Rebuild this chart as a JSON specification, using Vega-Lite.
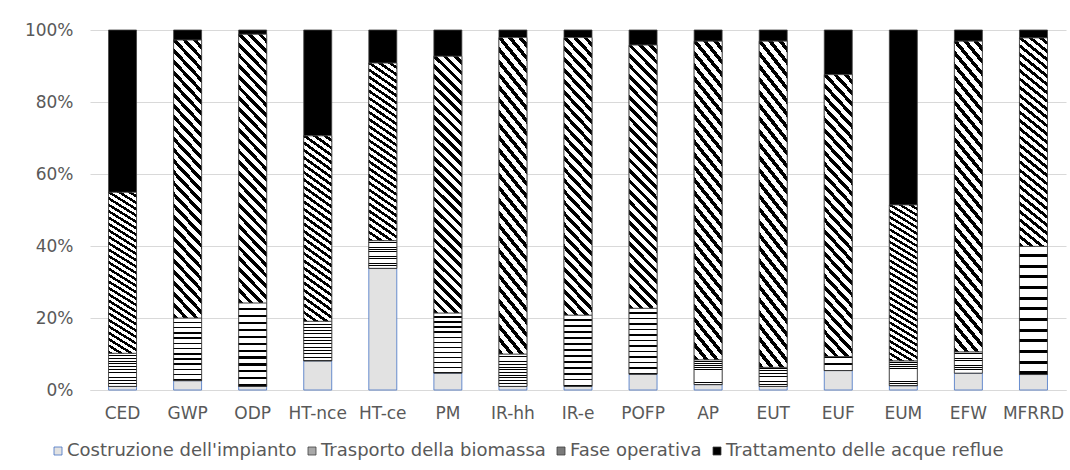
{
  "$schema": "https://vega.github.io/schema/vega-lite/v6.json",
  "autosize": {"type": "none"},
  "padding": {"left": 90, "top": 30, "right": 4, "bottom": 80},
  "width": 976,
  "height": 360,
  "background": "white",
  "config": {
    "view": {"stroke": null},
    "font": "DejaVu Sans",
    "axis": {"labelFont": "DejaVu Sans", "labelFontSize": 17, "labelColor": "#595959", "ticks": false, "title": null, "gridColor": "#d9d9d9", "gridWidth": 1},
    "legend": {"labelFont": "DejaVu Sans", "labelFontSize": 18, "labelColor": "#595959", "labelLimit": 0}
  },
  "data": {"values": [
    {"cat": "CED", "s": "Costruzione dell'impianto", "k": 1, "v": 1.0},
    {"cat": "CED", "s": "Trasporto della biomassa", "k": 2, "v": 9.2},
    {"cat": "CED", "s": "Fase operativa", "k": 3, "v": 44.7},
    {"cat": "CED", "s": "Trattamento delle acque reflue", "k": 4, "v": 45.1},
    {"cat": "GWP", "s": "Costruzione dell'impianto", "k": 1, "v": 2.6},
    {"cat": "GWP", "s": "Trasporto della biomassa", "k": 2, "v": 17.4},
    {"cat": "GWP", "s": "Fase operativa", "k": 3, "v": 77.2},
    {"cat": "GWP", "s": "Trattamento delle acque reflue", "k": 4, "v": 2.8},
    {"cat": "ODP", "s": "Costruzione dell'impianto", "k": 1, "v": 1.0},
    {"cat": "ODP", "s": "Trasporto della biomassa", "k": 2, "v": 23.2},
    {"cat": "ODP", "s": "Fase operativa", "k": 3, "v": 74.6},
    {"cat": "ODP", "s": "Trattamento delle acque reflue", "k": 4, "v": 1.2},
    {"cat": "HT-nce", "s": "Costruzione dell'impianto", "k": 1, "v": 8.1},
    {"cat": "HT-nce", "s": "Trasporto della biomassa", "k": 2, "v": 11.0},
    {"cat": "HT-nce", "s": "Fase operativa", "k": 3, "v": 51.5},
    {"cat": "HT-nce", "s": "Trattamento delle acque reflue", "k": 4, "v": 29.4},
    {"cat": "HT-ce", "s": "Costruzione dell'impianto", "k": 1, "v": 33.8},
    {"cat": "HT-ce", "s": "Trasporto della biomassa", "k": 2, "v": 7.7},
    {"cat": "HT-ce", "s": "Fase operativa", "k": 3, "v": 49.3},
    {"cat": "HT-ce", "s": "Trattamento delle acque reflue", "k": 4, "v": 9.2},
    {"cat": "PM", "s": "Costruzione dell'impianto", "k": 1, "v": 4.7},
    {"cat": "PM", "s": "Trasporto della biomassa", "k": 2, "v": 16.7},
    {"cat": "PM", "s": "Fase operativa", "k": 3, "v": 71.3},
    {"cat": "PM", "s": "Trattamento delle acque reflue", "k": 4, "v": 7.3},
    {"cat": "IR-hh", "s": "Costruzione dell'impianto", "k": 1, "v": 1.0},
    {"cat": "IR-hh", "s": "Trasporto della biomassa", "k": 2, "v": 9.0},
    {"cat": "IR-hh", "s": "Fase operativa", "k": 3, "v": 87.9},
    {"cat": "IR-hh", "s": "Trattamento delle acque reflue", "k": 4, "v": 2.1},
    {"cat": "IR-e", "s": "Costruzione dell'impianto", "k": 1, "v": 1.0},
    {"cat": "IR-e", "s": "Trasporto della biomassa", "k": 2, "v": 19.8},
    {"cat": "IR-e", "s": "Fase operativa", "k": 3, "v": 77.1},
    {"cat": "IR-e", "s": "Trattamento delle acque reflue", "k": 4, "v": 2.1},
    {"cat": "POFP", "s": "Costruzione dell'impianto", "k": 1, "v": 4.4},
    {"cat": "POFP", "s": "Trasporto della biomassa", "k": 2, "v": 18.3},
    {"cat": "POFP", "s": "Fase operativa", "k": 3, "v": 73.1},
    {"cat": "POFP", "s": "Trattamento delle acque reflue", "k": 4, "v": 4.2},
    {"cat": "AP", "s": "Costruzione dell'impianto", "k": 1, "v": 1.5},
    {"cat": "AP", "s": "Trasporto della biomassa", "k": 2, "v": 6.9},
    {"cat": "AP", "s": "Fase operativa", "k": 3, "v": 88.5},
    {"cat": "AP", "s": "Trattamento delle acque reflue", "k": 4, "v": 3.1},
    {"cat": "EUT", "s": "Costruzione dell'impianto", "k": 1, "v": 1.0},
    {"cat": "EUT", "s": "Trasporto della biomassa", "k": 2, "v": 5.3},
    {"cat": "EUT", "s": "Fase operativa", "k": 3, "v": 90.6},
    {"cat": "EUT", "s": "Trattamento delle acque reflue", "k": 4, "v": 3.1},
    {"cat": "EUF", "s": "Costruzione dell'impianto", "k": 1, "v": 5.4},
    {"cat": "EUF", "s": "Trasporto della biomassa", "k": 2, "v": 3.9},
    {"cat": "EUF", "s": "Fase operativa", "k": 3, "v": 78.3},
    {"cat": "EUF", "s": "Trattamento delle acque reflue", "k": 4, "v": 12.4},
    {"cat": "EUM", "s": "Costruzione dell'impianto", "k": 1, "v": 1.2},
    {"cat": "EUM", "s": "Trasporto della biomassa", "k": 2, "v": 6.9},
    {"cat": "EUM", "s": "Fase operativa", "k": 3, "v": 43.3},
    {"cat": "EUM", "s": "Trattamento delle acque reflue", "k": 4, "v": 48.6},
    {"cat": "EFW", "s": "Costruzione dell'impianto", "k": 1, "v": 4.7},
    {"cat": "EFW", "s": "Trasporto della biomassa", "k": 2, "v": 5.9},
    {"cat": "EFW", "s": "Fase operativa", "k": 3, "v": 86.3},
    {"cat": "EFW", "s": "Trattamento delle acque reflue", "k": 4, "v": 3.1},
    {"cat": "MFRRD", "s": "Costruzione dell'impianto", "k": 1, "v": 4.3},
    {"cat": "MFRRD", "s": "Trasporto della biomassa", "k": 2, "v": 35.6},
    {"cat": "MFRRD", "s": "Fase operativa", "k": 3, "v": 57.9},
    {"cat": "MFRRD", "s": "Trattamento delle acque reflue", "k": 4, "v": 2.2}
  ]},
  "transform": [
    {"stack": "v", "groupby": ["cat"], "sort": [{"field": "k", "order": "ascending"}], "offset": "normalize", "as": ["y0", "y1"]}
  ],
  "encoding": {
    "x": {"field": "cat", "type": "nominal", "sort": ["CED", "GWP", "ODP", "HT-nce", "HT-ce", "PM", "IR-hh", "IR-e", "POFP", "AP", "EUT", "EUF", "EUM", "EFW", "MFRRD"],
      "scale": {"paddingInner": 0.57, "paddingOuter": 0.285},
      "axis": {"labelAngle": 0, "labelPadding": 15, "domain": true, "domainColor": "#d9d9d9", "grid": false}},
    "y": {"field": "y0", "type": "quantitative",
      "scale": {"domain": [0, 1]},
      "axis": {"format": ".0%", "values": [0, 0.2, 0.4, 0.6, 0.8, 1], "domain": false, "labelPadding": 17, "grid": true}},
    "y2": {"field": "y1"}
  },
  "layer": [
    {
      "mark": {"type": "bar", "strokeWidth": 0.8},
      "encoding": {
        "fill": {"field": "s", "type": "nominal",
          "scale": {
            "domain": ["Costruzione dell'impianto", "Trasporto della biomassa", "Fase operativa", "Trattamento delle acque reflue"],
            "range": ["#e2e2e2", "#a8a8a8", "#7a7a7a", "#000000"]
          },
          "legend": {"title": null, "orient": "none", "legendX": -41, "legendY": 412, "direction": "horizontal", "columns": 4, "columnPadding": 6, "symbolType": "square", "symbolSize": 64, "symbolStrokeWidth": 0.8, "labelOffset": 0}},
        "stroke": {"field": "s", "type": "nominal",
          "scale": {
            "domain": ["Costruzione dell'impianto", "Trasporto della biomassa", "Fase operativa", "Trattamento delle acque reflue"],
            "range": ["#4472c4", "#404040", "#404040", "#404040"]
          },
          "legend": null}
      }
    },
    {
      "transform": [{"filter": "datum.k == 2"}],
      "mark": {"type": "bar", "strokeWidth": 0.8, "stroke": "#404040",
        "fill": {"gradient": "linear", "x1": 0, "y1": 0, "x2": 0, "y2": 1, "stops": [
            {"offset": 0, "color": "#ffffff"}, {"offset": 0.05833, "color": "#ffffff"}, {"offset": 0.05833, "color": "#000000"}, {"offset": 0.08333, "color": "#000000"},
            {"offset": 0.08333, "color": "#ffffff"}, {"offset": 0.14167, "color": "#ffffff"}, {"offset": 0.14167, "color": "#000000"}, {"offset": 0.16667, "color": "#000000"},
            {"offset": 0.16667, "color": "#ffffff"}, {"offset": 0.225, "color": "#ffffff"}, {"offset": 0.225, "color": "#000000"}, {"offset": 0.25, "color": "#000000"},
            {"offset": 0.25, "color": "#ffffff"}, {"offset": 0.30833, "color": "#ffffff"}, {"offset": 0.30833, "color": "#000000"}, {"offset": 0.33333, "color": "#000000"},
            {"offset": 0.33333, "color": "#ffffff"}, {"offset": 0.39167, "color": "#ffffff"}, {"offset": 0.39167, "color": "#000000"}, {"offset": 0.41667, "color": "#000000"},
            {"offset": 0.41667, "color": "#ffffff"}, {"offset": 0.475, "color": "#ffffff"}, {"offset": 0.475, "color": "#000000"}, {"offset": 0.5, "color": "#000000"},
            {"offset": 0.5, "color": "#ffffff"}, {"offset": 0.55833, "color": "#ffffff"}, {"offset": 0.55833, "color": "#000000"}, {"offset": 0.58333, "color": "#000000"},
            {"offset": 0.58333, "color": "#ffffff"}, {"offset": 0.64167, "color": "#ffffff"}, {"offset": 0.64167, "color": "#000000"}, {"offset": 0.66667, "color": "#000000"},
            {"offset": 0.66667, "color": "#ffffff"}, {"offset": 0.725, "color": "#ffffff"}, {"offset": 0.725, "color": "#000000"}, {"offset": 0.75, "color": "#000000"},
            {"offset": 0.75, "color": "#ffffff"}, {"offset": 0.80833, "color": "#ffffff"}, {"offset": 0.80833, "color": "#000000"}, {"offset": 0.83333, "color": "#000000"},
            {"offset": 0.83333, "color": "#ffffff"}, {"offset": 0.89167, "color": "#ffffff"}, {"offset": 0.89167, "color": "#000000"}, {"offset": 0.91667, "color": "#000000"},
            {"offset": 0.91667, "color": "#ffffff"}, {"offset": 0.975, "color": "#ffffff"}, {"offset": 0.975, "color": "#000000"}, {"offset": 1, "color": "#000000"}
          ]}
      }
    },
    {
      "transform": [{"filter": "datum.k == 3"}],
      "mark": {"type": "bar", "strokeWidth": 0.8, "stroke": "#404040",
        "fill": {"gradient": "linear", "x1": 0, "y1": 1, "x2": 0.119, "y2": -0.1, "stops": [
            {"offset": 0, "color": "#000000"}, {"offset": 0.01607, "color": "#000000"}, {"offset": 0.01607, "color": "#ffffff"}, {"offset": 0.03571, "color": "#ffffff"},
            {"offset": 0.03571, "color": "#000000"}, {"offset": 0.05179, "color": "#000000"}, {"offset": 0.05179, "color": "#ffffff"}, {"offset": 0.07143, "color": "#ffffff"},
            {"offset": 0.07143, "color": "#000000"}, {"offset": 0.0875, "color": "#000000"}, {"offset": 0.0875, "color": "#ffffff"}, {"offset": 0.10714, "color": "#ffffff"},
            {"offset": 0.10714, "color": "#000000"}, {"offset": 0.12321, "color": "#000000"}, {"offset": 0.12321, "color": "#ffffff"}, {"offset": 0.14286, "color": "#ffffff"},
            {"offset": 0.14286, "color": "#000000"}, {"offset": 0.15893, "color": "#000000"}, {"offset": 0.15893, "color": "#ffffff"}, {"offset": 0.17857, "color": "#ffffff"},
            {"offset": 0.17857, "color": "#000000"}, {"offset": 0.19464, "color": "#000000"}, {"offset": 0.19464, "color": "#ffffff"}, {"offset": 0.21429, "color": "#ffffff"},
            {"offset": 0.21429, "color": "#000000"}, {"offset": 0.23036, "color": "#000000"}, {"offset": 0.23036, "color": "#ffffff"}, {"offset": 0.25, "color": "#ffffff"},
            {"offset": 0.25, "color": "#000000"}, {"offset": 0.26607, "color": "#000000"}, {"offset": 0.26607, "color": "#ffffff"}, {"offset": 0.28571, "color": "#ffffff"},
            {"offset": 0.28571, "color": "#000000"}, {"offset": 0.30179, "color": "#000000"}, {"offset": 0.30179, "color": "#ffffff"}, {"offset": 0.32143, "color": "#ffffff"},
            {"offset": 0.32143, "color": "#000000"}, {"offset": 0.3375, "color": "#000000"}, {"offset": 0.3375, "color": "#ffffff"}, {"offset": 0.35714, "color": "#ffffff"},
            {"offset": 0.35714, "color": "#000000"}, {"offset": 0.37321, "color": "#000000"}, {"offset": 0.37321, "color": "#ffffff"}, {"offset": 0.39286, "color": "#ffffff"},
            {"offset": 0.39286, "color": "#000000"}, {"offset": 0.40893, "color": "#000000"}, {"offset": 0.40893, "color": "#ffffff"}, {"offset": 0.42857, "color": "#ffffff"},
            {"offset": 0.42857, "color": "#000000"}, {"offset": 0.44464, "color": "#000000"}, {"offset": 0.44464, "color": "#ffffff"}, {"offset": 0.46429, "color": "#ffffff"},
            {"offset": 0.46429, "color": "#000000"}, {"offset": 0.48036, "color": "#000000"}, {"offset": 0.48036, "color": "#ffffff"}, {"offset": 0.5, "color": "#ffffff"},
            {"offset": 0.5, "color": "#000000"}, {"offset": 0.51607, "color": "#000000"}, {"offset": 0.51607, "color": "#ffffff"}, {"offset": 0.53571, "color": "#ffffff"},
            {"offset": 0.53571, "color": "#000000"}, {"offset": 0.55179, "color": "#000000"}, {"offset": 0.55179, "color": "#ffffff"}, {"offset": 0.57143, "color": "#ffffff"},
            {"offset": 0.57143, "color": "#000000"}, {"offset": 0.5875, "color": "#000000"}, {"offset": 0.5875, "color": "#ffffff"}, {"offset": 0.60714, "color": "#ffffff"},
            {"offset": 0.60714, "color": "#000000"}, {"offset": 0.62321, "color": "#000000"}, {"offset": 0.62321, "color": "#ffffff"}, {"offset": 0.64286, "color": "#ffffff"},
            {"offset": 0.64286, "color": "#000000"}, {"offset": 0.65893, "color": "#000000"}, {"offset": 0.65893, "color": "#ffffff"}, {"offset": 0.67857, "color": "#ffffff"},
            {"offset": 0.67857, "color": "#000000"}, {"offset": 0.69464, "color": "#000000"}, {"offset": 0.69464, "color": "#ffffff"}, {"offset": 0.71429, "color": "#ffffff"},
            {"offset": 0.71429, "color": "#000000"}, {"offset": 0.73036, "color": "#000000"}, {"offset": 0.73036, "color": "#ffffff"}, {"offset": 0.75, "color": "#ffffff"},
            {"offset": 0.75, "color": "#000000"}, {"offset": 0.76607, "color": "#000000"}, {"offset": 0.76607, "color": "#ffffff"}, {"offset": 0.78571, "color": "#ffffff"},
            {"offset": 0.78571, "color": "#000000"}, {"offset": 0.80179, "color": "#000000"}, {"offset": 0.80179, "color": "#ffffff"}, {"offset": 0.82143, "color": "#ffffff"},
            {"offset": 0.82143, "color": "#000000"}, {"offset": 0.8375, "color": "#000000"}, {"offset": 0.8375, "color": "#ffffff"}, {"offset": 0.85714, "color": "#ffffff"},
            {"offset": 0.85714, "color": "#000000"}, {"offset": 0.87321, "color": "#000000"}, {"offset": 0.87321, "color": "#ffffff"}, {"offset": 0.89286, "color": "#ffffff"},
            {"offset": 0.89286, "color": "#000000"}, {"offset": 0.90893, "color": "#000000"}, {"offset": 0.90893, "color": "#ffffff"}, {"offset": 0.92857, "color": "#ffffff"},
            {"offset": 0.92857, "color": "#000000"}, {"offset": 0.94464, "color": "#000000"}, {"offset": 0.94464, "color": "#ffffff"}, {"offset": 0.96429, "color": "#ffffff"},
            {"offset": 0.96429, "color": "#000000"}, {"offset": 0.98036, "color": "#000000"}, {"offset": 0.98036, "color": "#ffffff"}, {"offset": 1, "color": "#ffffff"}
          ]}
      }
    }
  ]
}
